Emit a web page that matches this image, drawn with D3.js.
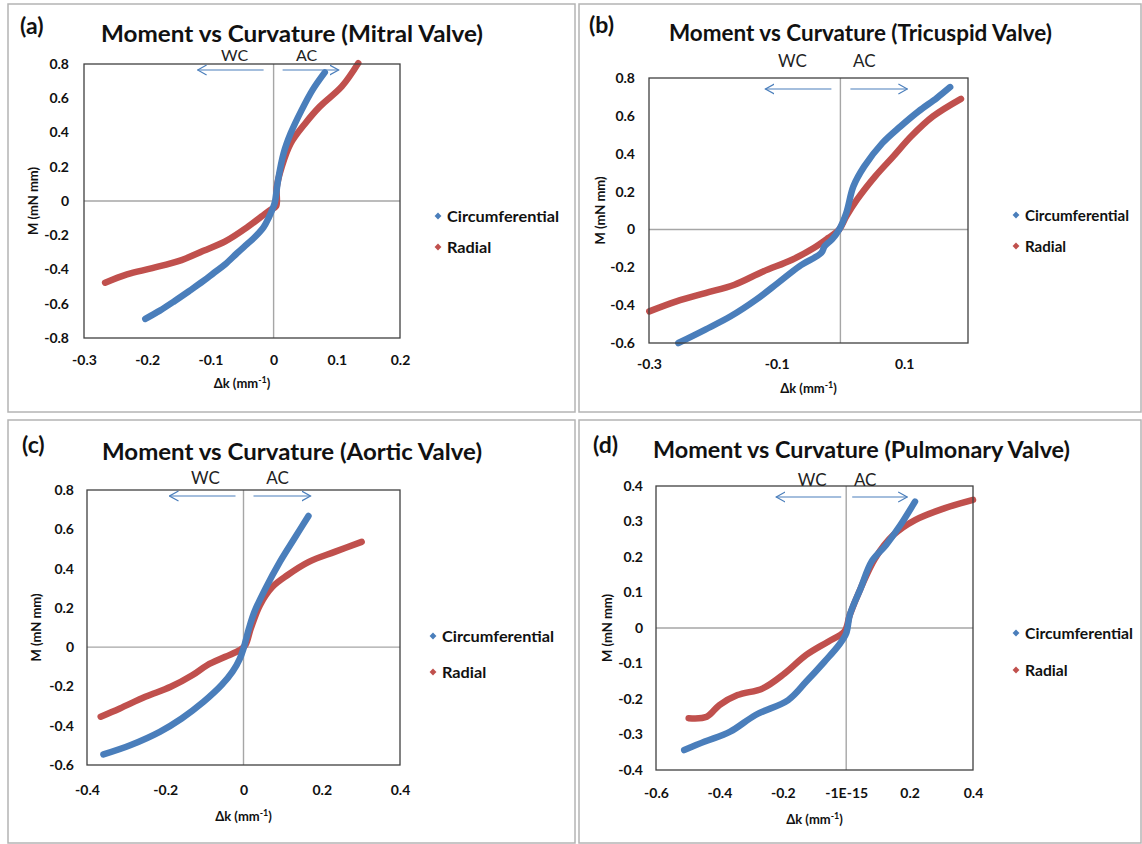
<!DOCTYPE html>
<html>
<head>
<meta charset="utf-8">
<script src="https://cdn.jsdelivr.net/npm/d3@7"></script>
<style>
  html, body { margin: 0; padding: 0; background: #fff; }
  #container { width: 1142px; height: 844px; }
  text { font-family: Lato, "Open Sans", sans-serif; }
</style>
</head>
<body>
<div id="container"></div>
<script>
// Moment vs Curvature, four valves, [Δk, M]

// (a) Mitral
const mitralCirc = [[-0.203,-0.688],[-0.180,-0.640],[-0.157,-0.585],[-0.134,-0.527],[-0.111,-0.467],[-0.094,-0.418],[-0.0765,-0.369],[-0.058,-0.305],[-0.042,-0.252],[-0.030,-0.212],[-0.016,-0.154],[-0.0074,-0.095],[-0.0016,-0.046],[0.002,-0.007],[0.007,0.12],[0.0157,0.277],[0.027,0.395],[0.0445,0.532],[0.0617,0.649],[0.081,0.751]];
const mitralRad = [[-0.2666,-0.477],[-0.232,-0.428],[-0.192,-0.392],[-0.1456,-0.345],[-0.111,-0.291],[-0.0765,-0.236],[-0.042,-0.154],[-0.019,-0.090],[-0.0045,-0.050],[0.004,-0.030],[0.005,0.081],[0.0128,0.199],[0.027,0.336],[0.050,0.453],[0.073,0.551],[0.108,0.669],[0.134,0.805]];

// (b) Tricuspid
const tricuspidCirc = [[-0.254,-0.600],[-0.2117,-0.529],[-0.172,-0.459],[-0.132,-0.371],[-0.098,-0.283],[-0.0644,-0.195],[-0.030,-0.124],[-0.0248,-0.089],[-0.0135,-0.054],[-0.002,-0.001],[0.0092,0.087],[0.0204,0.228],[0.0374,0.333],[0.0657,0.456],[0.094,0.544],[0.1224,0.624],[0.151,0.694],[0.172,0.752]];
const tricuspidRad = [[-0.2995,-0.433],[-0.257,-0.380],[-0.2117,-0.336],[-0.166,-0.292],[-0.121,-0.222],[-0.0758,-0.160],[-0.0418,-0.098],[-0.019,-0.045],[-0.002,-0.001],[0.0092,0.069],[0.026,0.157],[0.0545,0.280],[0.083,0.386],[0.111,0.492],[0.145,0.597],[0.189,0.690]];

// (c) Aortic
const aorticCirc = [[-0.358,-0.546],[-0.288,-0.498],[-0.214,-0.431],[-0.158,-0.363],[-0.102,-0.278],[-0.056,-0.193],[-0.028,-0.125],[-0.0093,-0.058],[0,-0.007],[0.014,0.095],[0.028,0.180],[0.056,0.298],[0.093,0.434],[0.130,0.553],[0.166,0.668]];
const aorticRad = [[-0.365,-0.354],[-0.316,-0.312],[-0.251,-0.253],[-0.186,-0.202],[-0.130,-0.142],[-0.093,-0.092],[-0.0465,-0.049],[-0.0093,-0.015],[0.0047,0.010],[0.0186,0.095],[0.042,0.214],[0.074,0.307],[0.112,0.366],[0.167,0.434],[0.233,0.485],[0.302,0.536]];

// (d) Pulmonary
const pulmonaryCirc = [[-0.511,-0.344],[-0.446,-0.320],[-0.366,-0.292],[-0.286,-0.245],[-0.183,-0.203],[-0.126,-0.151],[-0.0686,-0.095],[-0.023,-0.048],[0,-0.015],[0.0114,0.037],[0.0457,0.112],[0.080,0.187],[0.1257,0.234],[0.171,0.290],[0.217,0.356]];
const pulmonaryRad = [[-0.497,-0.254],[-0.44,-0.250],[-0.40,-0.217],[-0.343,-0.189],[-0.263,-0.170],[-0.194,-0.128],[-0.126,-0.076],[-0.057,-0.0385],[-0.0057,-0.010],[0.0114,0.037],[0.0457,0.112],[0.091,0.196],[0.149,0.262],[0.217,0.304],[0.309,0.337],[0.40,0.361]];

// 刻度
const xTicksA = [-0.3,-0.2,-0.1,0,0.1,0.2];
const xLabelsA = ["-0.3","-0.2","-0.1","0","0.1","0.2"];
const yTicksA = [0.8,0.6,0.4,0.2,0,-0.2,-0.4,-0.6,-0.8];
const yLabelsA = ["0.8","0.6","0.4","0.2","0","-0.2","-0.4","-0.6","-0.8"];
const xTicksB = [-0.3,-0.1,0.1];
const xLabelsB = ["-0.3","-0.1","0.1"];
const yTicksBC = [0.8,0.6,0.4,0.2,0,-0.2,-0.4,-0.6];
const yLabelsBC = ["0.8","0.6","0.4","0.2","0","-0.2","-0.4","-0.6"];
const xTicksC = [-0.4,-0.2,0,0.2,0.4];
const xLabelsC = ["-0.4","-0.2","0","0.2","0.4"];
const xTicksD = [-0.6,-0.4,-0.2,0,0.2,0.4];
const xLabelsD = ["-0.6","-0.4","-0.2","-1E-15","0.2","0.4"];
const yTicksD = [0.4,0.3,0.2,0.1,0,-0.1,-0.2,-0.3,-0.4];
const yLabelsD = ["0.4","0.3","0.2","0.1","0","-0.1","-0.2","-0.3","-0.4"];

const seriesNames = ["Circumferential", "Radial"];
const titles = ["Moment vs Curvature (Mitral Valve)", "Moment vs Curvature (Tricuspid Valve)",
  "Moment vs Curvature (Aortic Valve)", "Moment vs Curvature (Pulmonary Valve)"];
const panelLabels = ["(a)", "(b)", "(c)", "(d)"];

const colors = ["#4a7ebb", "#c0504d"];

const panels = [
  { circ: mitralCirc, rad: mitralRad, xDom: [-0.3, 0.2], yDom: [-0.8, 0.8], xT: xTicksA, xL: xLabelsA, yT: yTicksA, yL: yLabelsA,
    frame: [8, 4, 575, 412], l: 84, r: 400, t: 64, b: 338, lab: [20, 34], ttl: [101, 42, 382],
    yTitleX: 33, xTitleY: 388, tickY: 365, yTickDx: 15, leg: [438, 216, 31, 112],
    ann: { wc: -39, ac: 33, ty: 61, fs: 16, ay: 70, la: [-10, -76], ra: [9, 65] } },
  { circ: tricuspidCirc, rad: tricuspidRad, xDom: [-0.3, 0.2], yDom: [-0.6, 0.8], xT: xTicksB, xL: xLabelsB, yT: yTicksBC, yL: yLabelsBC,
    frame: [579, 4, 1141, 412], l: 649, r: 968, t: 78, b: 343, lab: [589, 33], ttl: [669, 41, 383],
    yTitleX: 600, xTitleY: 393, tickY: 369, yTickDx: 14, leg: [1016, 215, 31, 104],
    ann: { wc: -48, ac: 24, ty: 67, fs: 17, ay: 89, la: [-9, -75], ra: [10, 67] } },
  { circ: aorticCirc, rad: aorticRad, xDom: [-0.4, 0.4], yDom: [-0.6, 0.8], xT: xTicksC, xL: xLabelsC, yT: yTicksBC, yL: yLabelsBC,
    frame: [8, 420, 575, 843], l: 87, r: 400, t: 490, b: 765, lab: [22, 453], ttl: [102, 460, 380],
    yTitleX: 36, xTitleY: 821, tickY: 795, yTickDx: 13, leg: [433, 636, 36, 112],
    ann: { wc: -38, ac: 34, ty: 484, fs: 17, ay: 496, la: [-8, -74], ra: [10, 67] } },
  { circ: pulmonaryCirc, rad: pulmonaryRad, xDom: [-0.6, 0.4], yDom: [-0.4, 0.4], xT: xTicksD, xL: xLabelsD, yT: yTicksD, yL: yLabelsD,
    frame: [579, 420, 1141, 843], l: 656, r: 973, t: 486, b: 770, lab: [593, 453], ttl: [653, 458, 417],
    yTitleX: 607, xTitleY: 824, tickY: 798, yTickDx: 13, leg: [1016, 633, 37, 108],
    ann: { wc: -34, ac: 19, ty: 486, fs: 17, ay: 497, la: [-5, -70], ra: [6, 61] } }
];

const svg = d3.select("#container").append("svg")
  .attr("width", 1142).attr("height", 844)
  .attr("viewBox", [0, 0, 1142, 844]);

// 箭头
svg.append("defs").append("marker")
  .attr("id", "arrow")
  .attr("viewBox", "0 -6 10 12")
  .attr("refX", 9).attr("refY", 0)
  .attr("markerWidth", 10).attr("markerHeight", 12)
  .attr("markerUnits", "userSpaceOnUse")
  .attr("orient", "auto")
  .append("path")
  .attr("d", "M0,-5L9,0L0,5")
  .attr("fill", "none")
  .attr("stroke", "#4a7ebb")
  .attr("stroke-width", 1.2);

panels.forEach((p, i) => {
  const g = svg.append("g");

  // 外框
  g.append("rect")
    .attr("x", p.frame[0]).attr("y", p.frame[1])
    .attr("width", p.frame[2] - p.frame[0]).attr("height", p.frame[3] - p.frame[1])
    .attr("fill", "none").attr("stroke", "#b4b4b4").attr("stroke-width", 1.5);

  const x = d3.scaleLinear().domain(p.xDom).range([p.l, p.r]);
  const y = d3.scaleLinear().domain(p.yDom).range([p.b, p.t]);

  // 标题
  g.append("text")
    .attr("x", p.lab[0]).attr("y", p.lab[1])
    .attr("font-size", 23).attr("font-weight", "bold").attr("fill", "#111")
    .text(panelLabels[i]);
  g.append("text")
    .attr("x", p.ttl[0]).attr("y", p.ttl[1])
    .attr("font-size", 23).attr("font-weight", "bold").attr("fill", "#111")
    .attr("textLength", p.ttl[2]).attr("lengthAdjust", "spacingAndGlyphs")
    .text(titles[i]);

  // 零线
  g.append("line")
    .attr("x1", x(0)).attr("x2", x(0)).attr("y1", p.t).attr("y2", p.b)
    .attr("stroke", "#a6a6a6").attr("stroke-width", 1.4);
  g.append("line")
    .attr("x1", p.l).attr("x2", p.r).attr("y1", y(0)).attr("y2", y(0))
    .attr("stroke", "#a6a6a6").attr("stroke-width", 1.4);

  // 坐标轴
  g.append("g")
    .attr("transform", `translate(0,${p.tickY})`)
    .call(d3.axisBottom(x).tickValues(p.xT).tickFormat((d, j) => p.xL[j]).tickSize(0).tickPadding(0))
    .call(a => a.select(".domain").remove())
    .call(a => a.selectAll("text").attr("dy", 0).attr("y", 0)
      .attr("font-family", "Lato, sans-serif").attr("font-size", 14).attr("font-weight", "bold").attr("fill", "#111"));
  g.append("g")
    .attr("transform", `translate(${p.l - p.yTickDx},0)`)
    .call(d3.axisLeft(y).tickValues(p.yT).tickFormat((d, j) => p.yL[j]).tickSize(0).tickPadding(0))
    .call(a => a.select(".domain").remove())
    .call(a => a.selectAll("text")
      .attr("font-family", "Lato, sans-serif").attr("font-size", 14).attr("font-weight", "bold").attr("fill", "#111"));

  // 轴标题
  g.append("text")
    .attr("transform", `translate(${p.yTitleX},${(p.t + p.b) / 2}) rotate(-90)`)
    .attr("dy", "0.35em").attr("text-anchor", "middle")
    .attr("font-size", 13).attr("font-weight", "bold").attr("fill", "#111")
    .text("M (mN mm)");
  const xt = g.append("text")
    .attr("x", (p.l + p.r) / 2).attr("y", p.xTitleY)
    .attr("text-anchor", "middle")
    .attr("font-size", 13).attr("font-weight", "bold").attr("fill", "#111");
  xt.append("tspan").text("Δk (mm");
  xt.append("tspan").attr("dy", -5).attr("font-size", 9).text("-1");
  xt.append("tspan").attr("dy", 5).text(")");

  // 曲线
  const line = d3.line()
    .curve(d3.curveCatmullRom)
    .x(d => x(d[0]))
    .y(d => y(d[1]));
  [p.rad, p.circ].forEach((s, k) => {
    g.append("path")
      .datum(s)
      .attr("fill", "none")
      .attr("stroke", colors[1 - k])
      .attr("stroke-width", 6.5)
      .attr("stroke-linejoin", "round")
      .attr("stroke-linecap", "round")
      .attr("d", line);
  });

  // 绘图区边框
  g.append("rect")
    .attr("x", p.l).attr("y", p.t).attr("width", p.r - p.l).attr("height", p.b - p.t)
    .attr("fill", "none").attr("stroke", "#404040").attr("stroke-width", 1.3);

  // WC / AC 注释
  const x0 = x(0);
  g.append("text").attr("x", x0 + p.ann.wc).attr("y", p.ann.ty).attr("text-anchor", "middle")
    .attr("font-size", p.ann.fs).attr("fill", "#222").text("WC");
  g.append("text").attr("x", x0 + p.ann.ac).attr("y", p.ann.ty).attr("text-anchor", "middle")
    .attr("font-size", p.ann.fs).attr("fill", "#222").text("AC");
  [p.ann.la, p.ann.ra].forEach(a => {
    g.append("line")
      .attr("x1", x0 + a[0]).attr("x2", x0 + a[1])
      .attr("y1", p.ann.ay).attr("y2", p.ann.ay)
      .attr("stroke", "#4a7ebb").attr("stroke-width", 1.2)
      .attr("marker-end", "url(#arrow)");
  });

  // 图例
  seriesNames.forEach((name, k) => {
    const ly = p.leg[1] + k * p.leg[2];
    g.append("path")
      .attr("transform", `translate(${p.leg[0]},${ly})`)
      .attr("d", d3.symbol(d3.symbolDiamond2, 30)())
      .attr("fill", colors[k]);
    g.append("text")
      .attr("x", p.leg[0] + 9).attr("y", ly).attr("dy", "0.35em")
      .attr("font-size", 16).attr("font-weight", "bold").attr("fill", "#111")
      .attr("textLength", k === 0 ? p.leg[3] : p.leg[3] * 0.395).attr("lengthAdjust", "spacingAndGlyphs")
      .text(name);
  });
});
</script>
</body>
</html>
